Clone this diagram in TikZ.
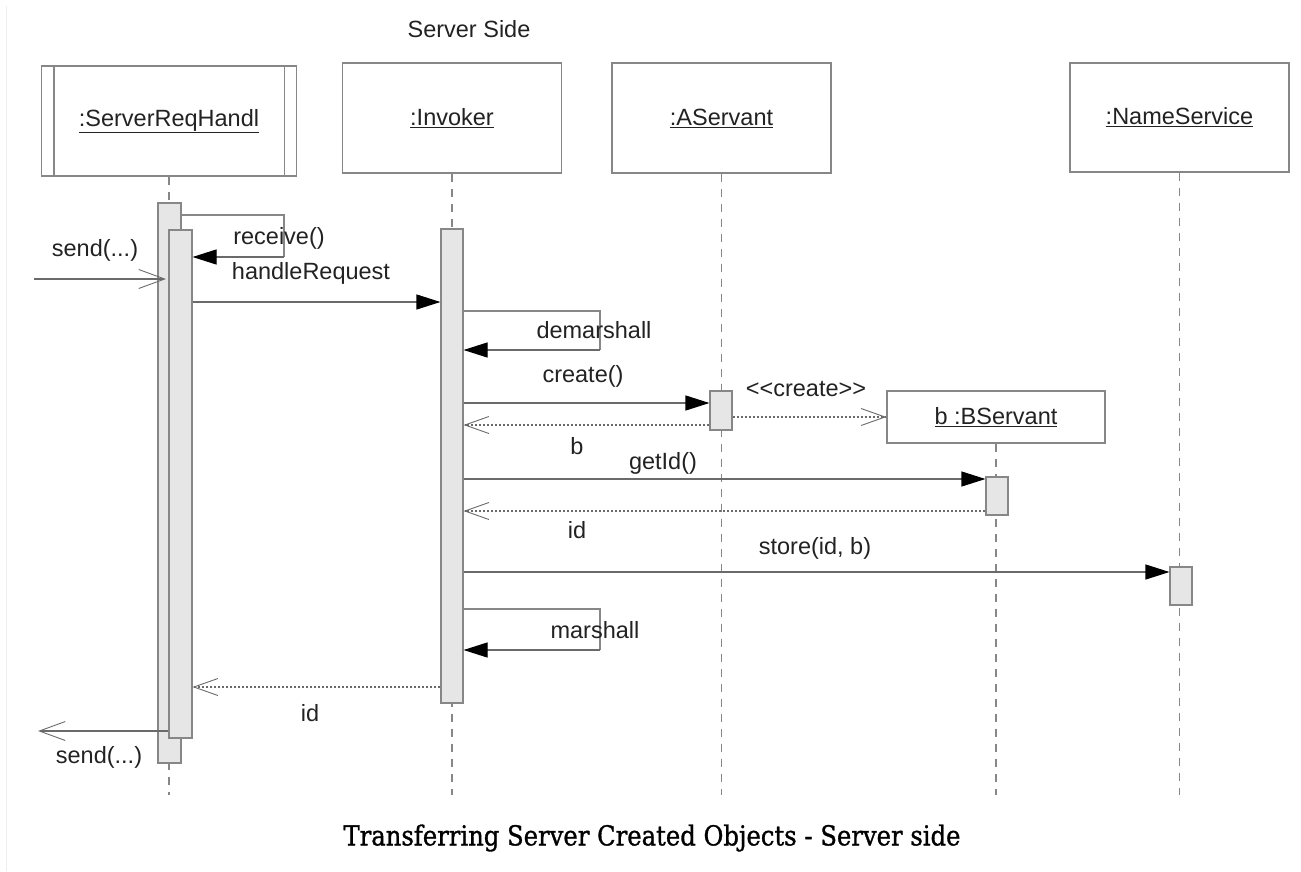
\documentclass[tikz,border=0pt]{standalone}
\usepackage{fontspec}
\setmainfont{Liberation Sans}
\newfontfamily\capfont[FakeBold=1.2]{DejaVu Serif}
\usetikzlibrary{arrows.meta}
\definecolor{ln}{HTML}{878787}
\definecolor{msgln}{HTML}{6A6A6A}
\definecolor{actfill}{HTML}{E6E6E6}
\definecolor{txt}{HTML}{222222}
\definecolor{frame}{HTML}{EEEEEE}

\begin{document}
\begin{tikzpicture}[x=1pt,y=-1pt,
  every node/.style={text=txt, font=\fontsize{23.5}{28}\selectfont},
  obj/.style={draw=ln, line width=1.2pt, fill=white, inner sep=0pt},
  act/.style={draw=ln, line width=1.1pt, fill=actfill, minimum width=22pt, inner sep=0pt},
  life/.style={draw=ln, line width=1.1pt, dash pattern=on 8pt off 7pt},
  call/.style={draw=msgln, line width=1.1pt, -{Triangle[length=24pt,width=15pt,color=black]}},
  selfln/.style={draw=ln, line width=1.1pt},
  reply/.style={draw=msgln, line width=1.1pt, dash pattern=on 2pt off 2pt,
    -{Straight Barb[length=24pt,width=17pt,line width=0.9pt]}},
  async/.style={draw=msgln, line width=1.1pt, -{Straight Barb[length=26pt,width=19pt,line width=0.9pt]}},
  lbl/.style={inner sep=0pt}
]
\useasboundingbox (0,0) rectangle (1301,871);
\draw[frame, line width=1pt] (6.5,6) -- (6.5,871);

% title
\node[lbl] (side) at (469,29) {Server Side};

% objects
\node[obj, minimum width=255pt, minimum height=110pt] (srh) at (169,121) {\underline{:ServerReqHandl}};
\draw[ln, line width=1.2pt] ([xshift=13pt]srh.north west) -- ([xshift=13pt]srh.south west);
\draw[ln, line width=1.2pt] ([xshift=-13pt]srh.north east) -- ([xshift=-13pt]srh.south east);
\node[obj, minimum width=219pt, minimum height=110pt] (inv) at (452,118) {\underline{:Invoker}};
\node[obj, minimum width=219pt, minimum height=110pt] (asv) at (721.5,118) {\underline{:AServant}};
\node[obj, minimum width=219pt, minimum height=109pt] (nsv) at (1179.5,117.5) {\underline{:NameService}};
\node[obj, minimum width=218pt, minimum height=52pt] (bsv) at (996,417) {\underline{b :BServant}};

% lifelines
\draw[life] (srh.south) -- (srh.south |- 0,795);
\draw[life] (inv.south) -- (inv.south |- 0,795);
\draw[life] (asv.south) -- (asv.south |- 0,795);
\draw[life] (bsv.south) -- (bsv.south |- 0,795);
\draw[life] (nsv.south) -- (nsv.south |- 0,795);

% activations
\node[act, minimum width=23pt, minimum height=560pt] (srhOut) at (169.5,483) {};
\node[act, minimum width=23pt, minimum height=508pt] (srhIn) at (180.5,484) {};
\node[act, minimum height=474pt] (invAct) at (452,466) {};
\node[act, minimum height=39pt] (asAct) at (721,410.5) {};
\node[act, minimum height=38pt] (bsAct) at (997,496) {};
\node[act, minimum height=38pt] (nsAct) at (1181,586) {};

% free ends of the outside messages
\coordinate (inSrc) at (34,279);
\coordinate (inDst) at (166,279);
\coordinate (outDst) at (38,731);

% incoming send
\draw[async] (inSrc) -- (inDst);
\node[lbl] (lSendIn) at (95,250) {send(...)};

% receive(): self call
\draw[selfln] (srhOut.east |- 0,215) -- (284,215) -- (284,257);
\draw[call] (284,257) -- (srhIn.east |- 0,257);
\node[lbl] (lRecv) at (279,238) {receive()};

% handleRequest
\draw[call] (srhIn.east |- 0,302) -- (invAct.west |- 0,302);
\node[lbl] (lHandle) at (311,273) {handleRequest};

% demarshall: self call
\draw[selfln] (invAct.east |- 0,311) -- (600,311) -- (600,350);
\draw[call] (600,350) -- (invAct.east |- 0,350);
\node[lbl] (lDemar) at (594,330) {demarshall};

% create()
\draw[call] (invAct.east |- 0,403) -- (asAct.west |- 0,403);
\node[lbl] (lCreate) at (583,376) {create()};
\draw[reply] (asAct.west |- 0,425) -- (invAct.east |- 0,425);
\node[lbl] (lB) at (577,446) {b};

% <<create>>
\draw[reply] (asAct.east |- 0,417) -- (bsv.west |- 0,417);
\node[lbl] (lCreateSt) at (806,389) {<{}<create>{}>};

% getId()
\draw[call] (invAct.east |- 0,479) -- (bsAct.west |- 0,479);
\node[lbl] (lGetId) at (663,463) {getId()};
\draw[reply] (bsAct.west |- 0,511) -- (invAct.east |- 0,511);
\node[lbl] (lId1) at (577,530) {id};

% store(id, b)
\draw[call] (invAct.east |- 0,572) -- (nsAct.west |- 0,572);
\node[lbl] (lStore) at (815,548) {store(id, b)};

% marshall: self call
\draw[selfln] (invAct.east |- 0,609) -- (600,609) -- (600,650);
\draw[call] (600,650) -- (invAct.east |- 0,650);
\node[lbl] (lMar) at (595,630) {marshall};

% reply id to the request handler
\draw[reply] (invAct.west |- 0,687) -- (srhIn.east |- 0,687);
\node[lbl] (lId2) at (310,713) {id};

% outgoing send
\draw[async] (srhIn.west |- 0,731) -- (outDst);
\node[lbl] (lSendOut) at (99,757) {send(...)};

% caption
\node[lbl, text=black] (cap) at (652,838) {\capfont\fontsize{27.5}{32}\selectfont\resizebox{617pt}{\height}{Transferring Server Created Objects - Server side}};
\end{tikzpicture}
\end{document}
